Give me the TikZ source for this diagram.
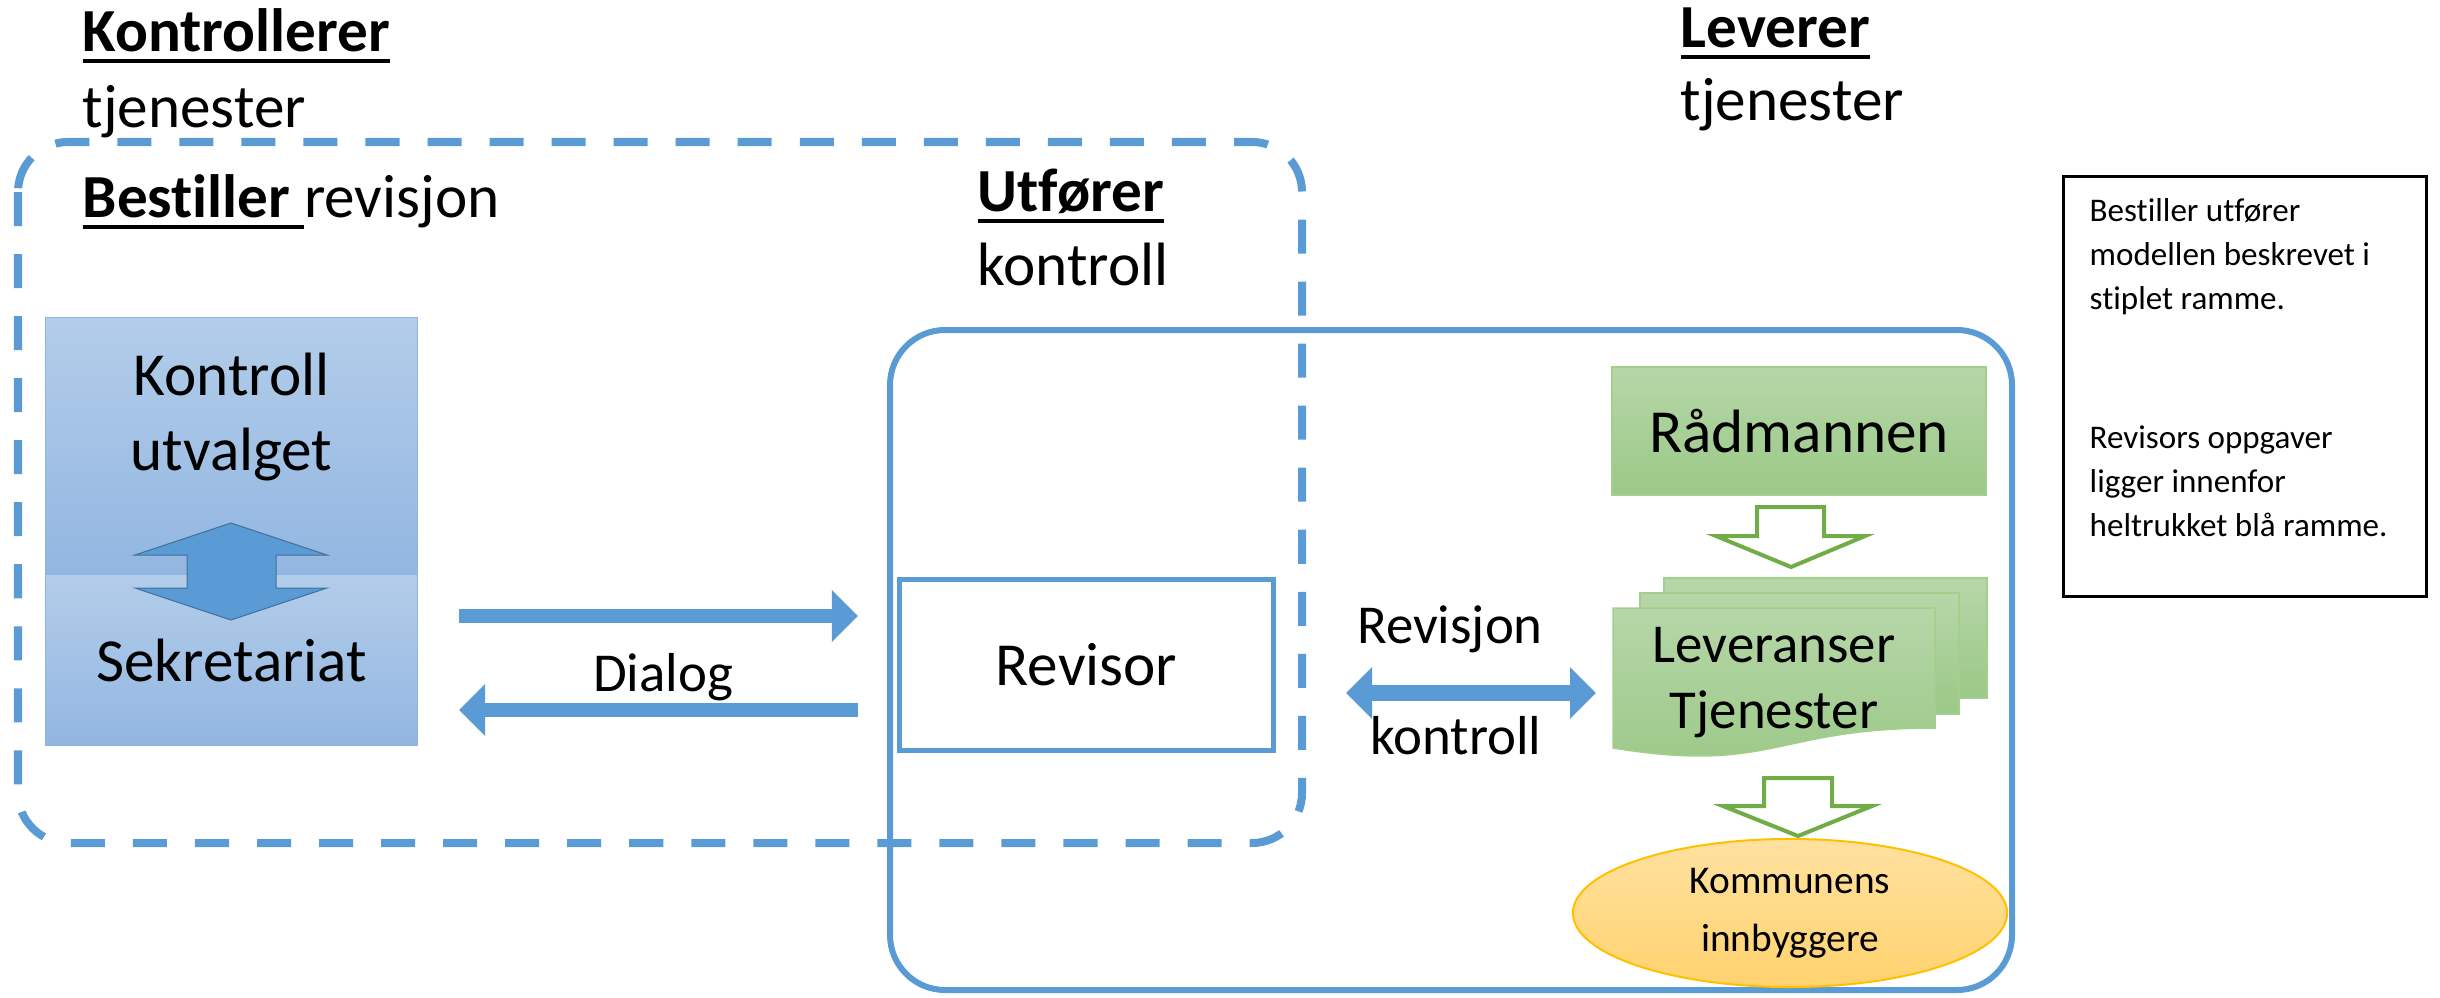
\documentclass[tikz,border=0pt]{standalone}
\usepackage{fontspec}
\setmainfont{Carlito}[Ligatures=NoCommon]
\usetikzlibrary{arrows.meta}
\usetikzlibrary{shapes.geometric}
\definecolor{blaa}{HTML}{5B9BD5}
\definecolor{blaamork}{HTML}{41719C}
\definecolor{blaalys}{HTML}{B3CDEA}
\definecolor{blaamid}{HTML}{92B6E1}
\definecolor{blaakant}{HTML}{8EB4E3}
\definecolor{groenn}{HTML}{70AD47}
\definecolor{groennlys}{HTML}{B6D7A8}
\definecolor{groennmid}{HTML}{9BC887}
\definecolor{groennkant}{HTML}{A3CE8B}
\definecolor{gullys}{HTML}{FFE1A0}
\definecolor{gulmid}{HTML}{FFD26E}
\definecolor{gulkant}{HTML}{FFC000}
\newcommand{\strek}[1]{\setbox0=\hbox{#1}\rlap{\rule[-3.1pt]{\wd0}{1.1pt}}\box0}
\tikzset{
	tekst/.style={inner sep=0},
	stor/.style={font=\fontsize{17.4}{21.3}\selectfont},
	mid/.style={font=\fontsize{15.6}{18.5}\selectfont},
	stiplet/.style={draw=blaa,line width=0.08cm,dash pattern=on 0.34cm off 0.28cm,rounded corners=0.5cm},
	heltrukket/.style={draw=blaa,line width=0.06cm,rounded corners=0.55cm},
	blaaboks/.style={draw=blaakant,line width=0.01cm,top color=blaalys,bottom color=blaamid,minimum width=3.71cm,inner sep=0},
	blokkpil/.style={fill=blaa,draw=blaamork,line width=0.01cm},
	revboks/.style={draw=blaa,line width=0.05cm,fill=white,minimum width=3.73cm,minimum height=1.70cm,inner sep=0},
	dlg/.style={line width=0.14cm,blaa,-{Triangle[length=0.26cm,width=0.5cm]}},
	dobbel/.style={line width=0.16cm,blaa,{Triangle[length=0.26cm,width=0.5cm]}-{Triangle[length=0.26cm,width=0.5cm]}},
	groennboks/.style={draw=groennkant,line width=0.015cm,top color=groennlys,bottom color=groennmid,inner sep=0},
	dok/.style={draw=groennkant,line width=0.015cm,top color=groennlys,bottom color=groennmid},
	hulpil/.style={draw=groenn,line width=0.04cm,fill=white},
	kommune/.style={ellipse,draw=gulkant,line width=0.02cm,top color=gullys,bottom color=gulmid,minimum width=4.34cm,minimum height=1.48cm,inner sep=0,align=center,font=\fontsize{11.2}{16.5}\selectfont},
	infoboks/.style={draw=black,line width=0.03cm,minimum width=3.62cm,minimum height=4.19cm},
	infotekst/.style={inner sep=0,align=left,font=\fontsize{9.4}{12.5}\selectfont}
}
\begin{document}
\begin{tikzpicture}[x=0.01cm,y=-0.01cm]
	\useasboundingbox (0,0) rectangle (2440,997);
	
	% rammer
	\draw[stiplet] (18,142) rectangle (1302,843);
	\draw[heltrukket] (890,330) rectangle (2012,990);
	
	% overskrifter
	\node[tekst,stor,anchor=base west] (kontr) at (82,52) {\strek{\textbf{Kontrollerer}}};
	\node[tekst,stor,anchor=base west] (kontrtj) at (82,127) {tjenester};
	\node[tekst,stor,anchor=base west] (lever) at (1680,48) {\strek{\textbf{Leverer}}};
	\node[tekst,stor,anchor=base west] (levertj) at (1680,121) {tjenester};
	\node[tekst,stor,anchor=base west] (best) at (82,218) {\strek{\textbf{Bestiller}\ }revisjon};
	\node[tekst,stor,anchor=base west] (utf) at (977,212) {\strek{\textbf{Utfører}}};
	\node[tekst,stor,anchor=base west] (utfk) at (977,285) {kontroll};
	
	% kontrollutvalg og sekretariat
	\node[blaaboks,minimum height=2.57cm] (utv) at (231.5,446.5) {};
	\node[blaaboks,minimum height=1.70cm,stor] (sek) at (231.5,660) {Sekretariat};
	\node[tekst,stor,align=center,anchor=base] (utvtekst) at (231.5,470) {Kontroll\\utvalget};
	\draw[blokkpil] (231,523) -- (327,555) -- (276,555) -- (276,588) -- (327,588) -- (231,620)
		-- (135,588) -- (187,588) -- (187,555) -- (135,555) -- cycle;
	
	% revisor og dialog
	\node[revboks,stor] (rev) at (1086.5,665) {Revisor};
	\coordinate (d1) at (459,616);
	\coordinate (d2) at (858,616);
	\coordinate (d3) at (858,710);
	\coordinate (d4) at (459,710);
	\draw[dlg] (d1) -- (d2);
	\draw[dlg] (d3) -- (d4);
	\node[tekst,mid,anchor=base] (dialog) at (663,691) {Dialog};
	
	% revisjon og kontroll
	\coordinate (r1) at (1346,693);
	\coordinate (r2) at (1596,693);
	\draw[dobbel] (r1) -- (r2);
	\node[tekst,mid,anchor=base] (revj) at (1450,643) {Revisjon};
	\node[tekst,mid,anchor=base] (revk) at (1456,754) {kontroll};
	
	% leverandoerside
	\node[groennboks,minimum width=3.74cm,minimum height=1.28cm,stor] (rad) at (1799,431) {Rådmannen};
	\draw[hulpil] (1757,507) -- (1824,507) -- (1824,536) -- (1865,536) -- (1791,567)
		-- (1716,536) -- (1757,536) -- cycle;
	\path[dok] (1664,578) rectangle (1987,698);
	\path[dok] (1640,593) rectangle (1959,714);
	\path[dok] (1613,608) -- (1935,608) -- (1935,728) .. controls (1774,728) and (1774,774) .. (1613,748) -- cycle;
	\node[tekst,mid,align=center,anchor=base] (lev) at (1774,728) {Leveranser\\Tjenester};
	\draw[hulpil] (1764,778) -- (1832,778) -- (1832,806) -- (1872,806) -- (1798,836)
		-- (1723,806) -- (1764,806) -- cycle;
	\node[kommune] (innb) at (1790,913) {Kommunens\\innbyggere};
	
	% forklaring
	\node[infoboks] (info) at (2245,386.5) {};
	\node[infotekst,anchor=base west] (infotxt) at (2089,536) {Bestiller utfører\\modellen beskrevet i\\stiplet ramme.\\[27pt]Revisors oppgaver\\ligger innenfor\\heltrukket blå ramme.};
\end{tikzpicture}
\end{document}
